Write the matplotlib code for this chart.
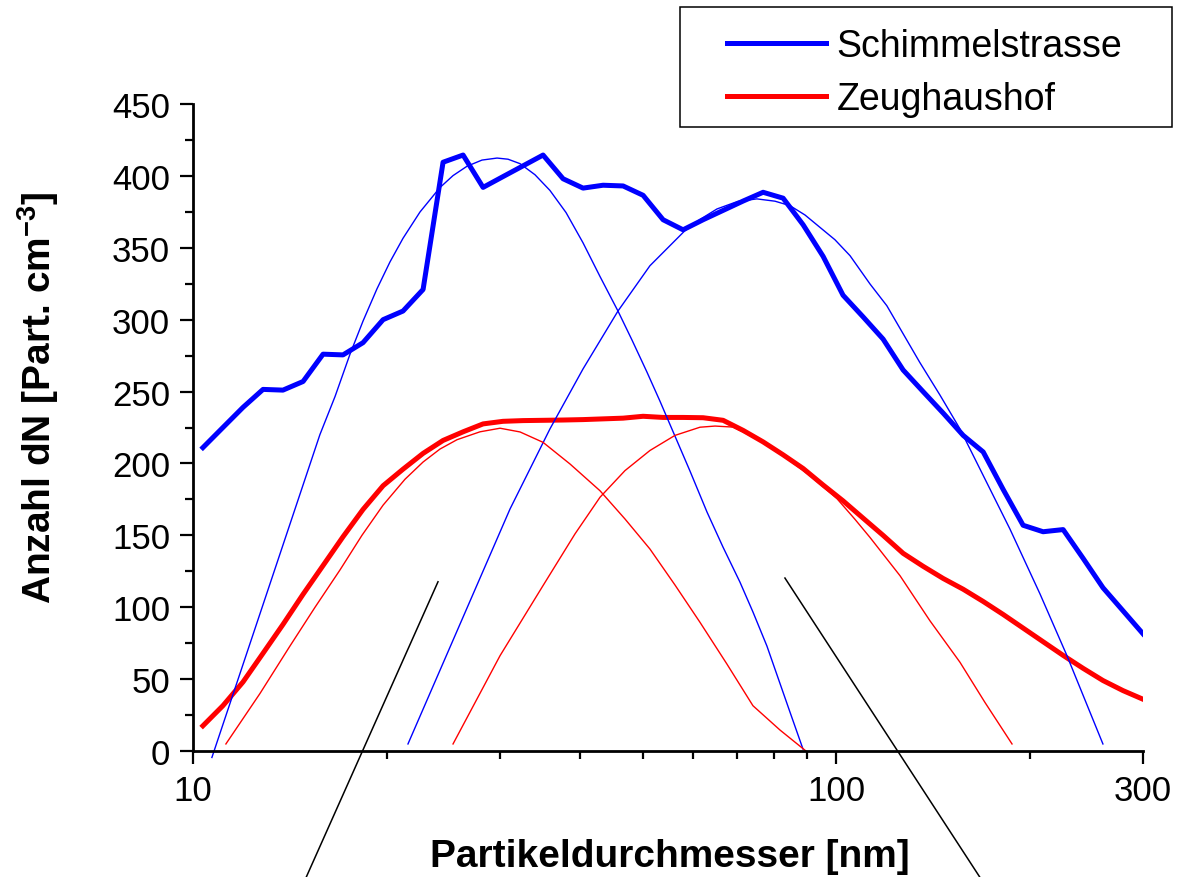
import matplotlib.pyplot as plt
from matplotlib.patches import Rectangle
from matplotlib.ticker import MultipleLocator, FixedLocator, NullFormatter

# particle diameter bins [nm]
diam = [10.36, 11.13, 11.96, 12.85, 13.80, 14.83, 15.93, 17.11, 18.38, 19.75,
        21.21, 22.79, 24.48, 26.30, 28.25, 30.34, 32.60, 35.02, 37.62, 40.41,
        43.41, 46.64, 50.10, 53.82, 57.81, 62.11, 66.72, 71.67, 76.99, 82.71,
        88.85, 95.45, 102.5, 110.1, 118.3, 127.1, 136.5, 146.7, 157.6, 169.3,
        181.8, 195.3, 209.8, 225.4, 242.1, 260.0, 279.3, 300.0]

# measured number concentration dN [Part. cm^-3]
schimmel = [211, 225, 239, 251.5, 251, 257, 276, 275.5, 284, 300,
            306, 321, 409.5, 414.5, 392, 399.5, 407, 414.5, 398, 391.5,
            393.5, 393, 386.5, 369.5, 362.5, 369.5, 376, 382.5, 388.6, 384.5,
            366, 344, 317, 302, 286.5, 265, 250, 235, 219.5, 208,
            182, 157, 152.5, 154, 134, 113.5, 97.5, 81.5]
zeughaus = [17.5, 31.5, 48, 68, 88, 109, 129, 149, 168, 184.5,
            196, 207, 216, 222, 227.5, 229.3, 229.8, 230, 230.2, 230.5,
            231, 231.5, 232.8, 232, 232, 231.8, 230, 223, 215, 206,
            196.5, 185, 174, 162, 150, 137.5, 128.5, 120, 112.5, 104,
            95, 85.5, 76, 66.5, 57.5, 49, 42, 36]

# fitted modes, Schimmelstrasse
schimmel_m1_d = [10.70, 15.75, 16.63, 17.54, 18.38, 19.32, 20.24, 21.21, 22.54, 24.21,
                 25.37, 26.67, 28.14, 29.70, 30.89, 32.25, 34.02, 35.89, 38.02, 40.40,
                 42.94, 45.79, 48.14, 50.79, 53.21, 55.54, 59.26, 62.98, 66.68, 70.86,
                 74.24, 78.05, 84.76, 88.80]
schimmel_m1_n = [-4.5, 220.0, 246.6, 275.9, 299.0, 321.4, 340.1, 356.6, 374.9, 391.9,
                 400.2, 406.7, 411.0, 412.4, 411.6, 408.5, 400.8, 389.9, 374.5, 353.5,
                 330.0, 306.0, 285.9, 263.6, 243.4, 224.0, 194.7, 166.2, 141.9, 117.5,
                 96.7, 73.0, 27.1, 1.4]
schimmel_m2_d = [21.59, 31.11, 35.89, 40.40, 45.79, 51.34, 58.19, 61.42, 65.27, 70.35,
                 75.30, 80.34, 84.76, 89.45, 94.37, 99.57, 105.1, 112.9, 119.9, 134.9,
                 145.0, 155.8, 186.3, 207.5, 228.5, 259.9]
schimmel_m2_n = [4.9, 168.3, 224.0, 265.7, 306.0, 337.5, 361.9, 369.7, 377.0, 382.3,
                 384.0, 382.4, 379.3, 372.8, 364.2, 355.6, 344.5, 324.8, 309.7, 270.3,
                 247.6, 224.0, 154.4, 109.2, 66.3, 4.9]

# fitted modes, Zeughaushof
zeughaus_m1_d = [11.25, 12.71, 14.15, 15.48, 16.93, 18.31, 19.75, 21.36, 22.79, 24.21,
                 25.73, 27.94, 30.02, 32.25, 35.01, 38.57, 42.94, 46.95, 51.34, 56.15,
                 61.42, 67.63, 74.24, 81.78, 89.75]
zeughaus_m1_n = [4.9, 40.0, 73.0, 100.0, 126.0, 150.0, 171.0, 189.0, 201.0, 210.0,
                 216.5, 222.0, 224.5, 221.9, 214.7, 199.6, 181.0, 161.4, 140.5, 115.5,
                 89.5, 60.5, 31.5, 14.6, 0.0]
zeughaus_m2_d = [25.37, 30.02, 35.01, 39.26, 42.94, 46.95, 51.34, 56.15, 61.42, 64.81,
                 69.11, 76.94, 83.25, 91.06, 100.3, 106.9, 112.9, 125.7, 139.9, 155.8,
                 170.3, 187.7]
zeughaus_m2_n = [4.9, 66.3, 115.0, 151.0, 176.5, 195.0, 209.0, 219.5, 225.2, 226.0,
                 225.3, 215.0, 204.5, 191.5, 175.5, 161.3, 148.5, 121.9, 90.6, 61.7,
                 33.9, 4.9]

# the two black pointer lines running off the bottom of the plot
pointer1_d = [24.04, 14.99]
pointer1_n = [117.7, -88]
pointer2_d = [83.25, 167.4]
pointer2_n = [120.3, -88]

plt.rcParams['font.family'] = 'Liberation Sans'
plt.rcParams['mathtext.fontset'] = 'custom'
plt.rcParams['mathtext.rm'] = 'Liberation Sans'
plt.rcParams['mathtext.bf'] = 'Liberation Sans:bold'

W, H = 1177, 878
fig = plt.figure(figsize=(W / 100, H / 100), dpi=100)
ax = fig.add_axes([193 / W, 126 / H, 950 / W, 647 / H])

thick = 3.6
thin = 1.0
l1, = ax.plot(diam, schimmel, color='#0000FF', lw=thick, label='Schimmelstrasse')
l2, = ax.plot(diam, zeughaus, color='#FF0000', lw=thick, label='Zeughaushof')
ax.plot(schimmel_m1_d, schimmel_m1_n, color='#0000FF', lw=thin, clip_on=False)
ax.plot(schimmel_m2_d, schimmel_m2_n, color='#0000FF', lw=thin, clip_on=False)
ax.plot(zeughaus_m1_d, zeughaus_m1_n, color='#FF0000', lw=thin, clip_on=False)
ax.plot(zeughaus_m2_d, zeughaus_m2_n, color='#FF0000', lw=thin, clip_on=False)
ax.plot(pointer1_d, pointer1_n, color='black', lw=1.1, clip_on=False)
ax.plot(pointer2_d, pointer2_n, color='black', lw=1.1, clip_on=False)

ax.set_xscale('log')
ax.set_xlim(10, 300)
ax.set_ylim(0, 450)
ax.xaxis.set_major_locator(FixedLocator([10, 100, 300]))
ax.xaxis.set_minor_locator(FixedLocator([20, 30, 40, 50, 60, 70, 80, 90, 200]))
ax.xaxis.set_minor_formatter(NullFormatter())
ax.set_xticklabels(['10', '100', '300'])
ax.yaxis.set_major_locator(MultipleLocator(50))
ax.yaxis.set_minor_locator(MultipleLocator(25))

for s in ['top', 'right']:
    ax.spines[s].set_visible(False)
for s in ['left', 'bottom']:
    ax.spines[s].set_linewidth(2.0)

ax.tick_params(which='major', direction='out', length=9.5, width=1.6, labelsize=25, pad=7)
ax.tick_params(which='minor', direction='out', length=5.5, width=1.6)

ax.set_xlabel('Partikeldurchmesser [nm]', fontsize=28, fontweight='bold')
ax.set_ylabel(r'Anzahl dN [Part. cm$^{\mathbf{-3}}$]', fontsize=28, fontweight='bold')
ax.xaxis.set_label_coords(0.5016, -0.134)
ax.yaxis.set_label_coords(-0.139, 0.548)

# legend box in the upper right corner
fig.add_artist(Rectangle((680 / W, 1 - 128 / H), 492 / W, 120 / H,
                         transform=fig.transFigure, fill=False, edgecolor='black', lw=1.1))
ax.legend(handles=[l1, l2], loc='upper left', bbox_to_anchor=(727 / W, 1 - 29 / H),
          bbox_transform=fig.transFigure, frameon=False, borderpad=0, borderaxespad=0,
          fontsize=27, handlelength=2.65, handletextpad=0.27, labelspacing=0.45)

fig.savefig('out.png', dpi=100)
